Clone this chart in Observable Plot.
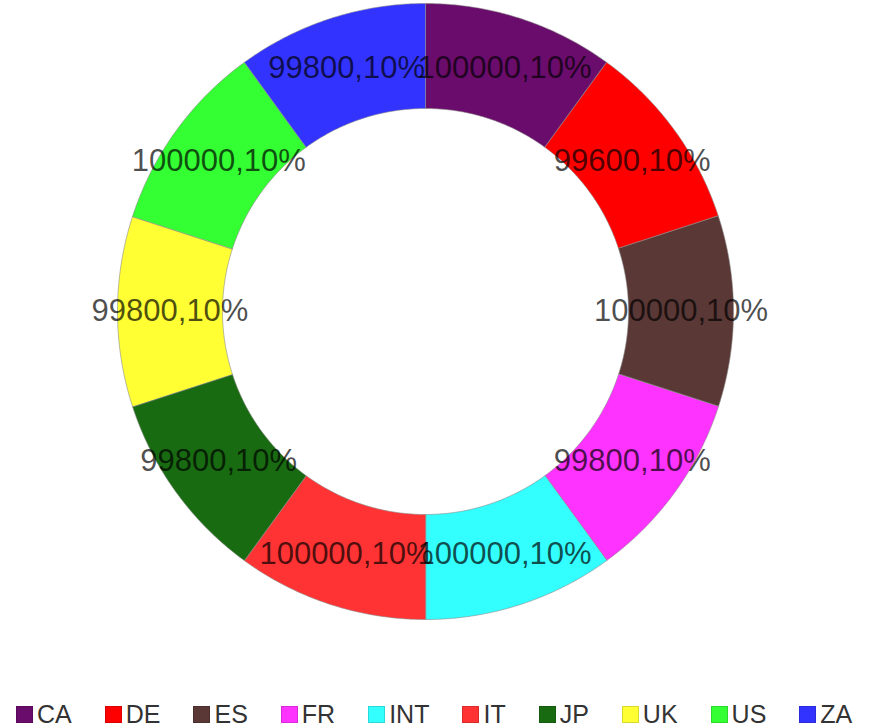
<!DOCTYPE html>
<html>
<head>
<meta charset="utf-8">
<script src="https://cdn.jsdelivr.net/npm/d3@7"></script>
<script src="https://cdn.jsdelivr.net/npm/@observablehq/plot@0.6"></script>
<style>
  body { margin: 0; background: #fff; font-family: "Liberation Sans", Arial, sans-serif; overflow: hidden; }
  #chart svg { display: block; }
  #legend { display: flex; align-items: center; padding-left: 16px; margin-top: 22px; height: 24px; }
  .item { display: flex; align-items: center; margin-right: 33px; font-size: 25px; color: #333; line-height: 24px; }
  .sw { width: 17px; height: 17px; margin-right: 4px; box-sizing: border-box; border: 1px solid rgba(0,0,0,0.15); }
</style>
</head>
<body>
<div id="chart"></div>
<div id="legend"></div>
<script>
const categories = ["CA", "DE", "ES", "FR", "INT", "IT", "JP", "UK", "US", "ZA"];
const values = [100000, 99600, 100000, 99800, 100000, 100000, 99800, 99800, 100000, 99800];
const colors = ["#6a0c6c", "#ff0000", "#5a3836", "#ff33ff", "#33ffff", "#ff3333", "#196b12", "#ffff33", "#33ff33", "#3333ff"];

const W = 870, H = 680, CX = 425, CY = 311, RPX = 308;
const inner = 203 / RPX, outer = 1, labelR = (inner + outer) / 2;

const total = d3.sum(values);
const pie = d3.pie().sort(null).value(d => d.value)(categories.map((c, i) => ({key: c, value: values[i]})));

function ringPoints(a0, a1) {
  const n = 80, pts = [];
  for (let k = 0; k <= n; k++) { const a = a0 + (a1 - a0) * k / n; pts.push({x: outer * Math.sin(a), y: outer * Math.cos(a)}); }
  for (let k = n; k >= 0; k--) { const a = a0 + (a1 - a0) * k / n; pts.push({x: inner * Math.sin(a), y: inner * Math.cos(a)}); }
  return pts;
}

const labels = pie.map(p => {
  const a = (p.startAngle + p.endAngle) / 2;
  return {x: labelR * Math.sin(a), y: labelR * Math.cos(a), text: `${p.data.value},${Math.round(p.data.value / total * 100)}%`};
});

const marks = pie.map((p, i) => Plot.line(ringPoints(p.startAngle, p.endAngle), {
  x: "x", y: "y", curve: "linear-closed", fill: colors[i], stroke: "#8a8a8a", strokeWidth: 0.6
}));
marks.push(Plot.text(labels, {
  x: "x", y: "y", text: "text", fontSize: 31, fill: "#000", fillOpacity: 0.7,
  fontFamily: "Liberation Sans, Arial, sans-serif", textAnchor: "middle", lineAnchor: "middle"
}));

const chart = Plot.plot({
  width: W, height: H,
  margin: 0,
  x: {domain: [-CX / RPX, (W - CX) / RPX], axis: null},
  y: {domain: [-(H - CY) / RPX, CY / RPX], axis: null},
  marks
});
document.getElementById("chart").appendChild(chart);

const legend = document.getElementById("legend");
categories.forEach((c, i) => {
  const it = document.createElement("div");
  it.className = "item";
  const sw = document.createElement("span");
  sw.className = "sw";
  sw.style.background = colors[i];
  it.appendChild(sw);
  it.appendChild(document.createTextNode(c));
  legend.appendChild(it);
});
</script>
</body>
</html>
